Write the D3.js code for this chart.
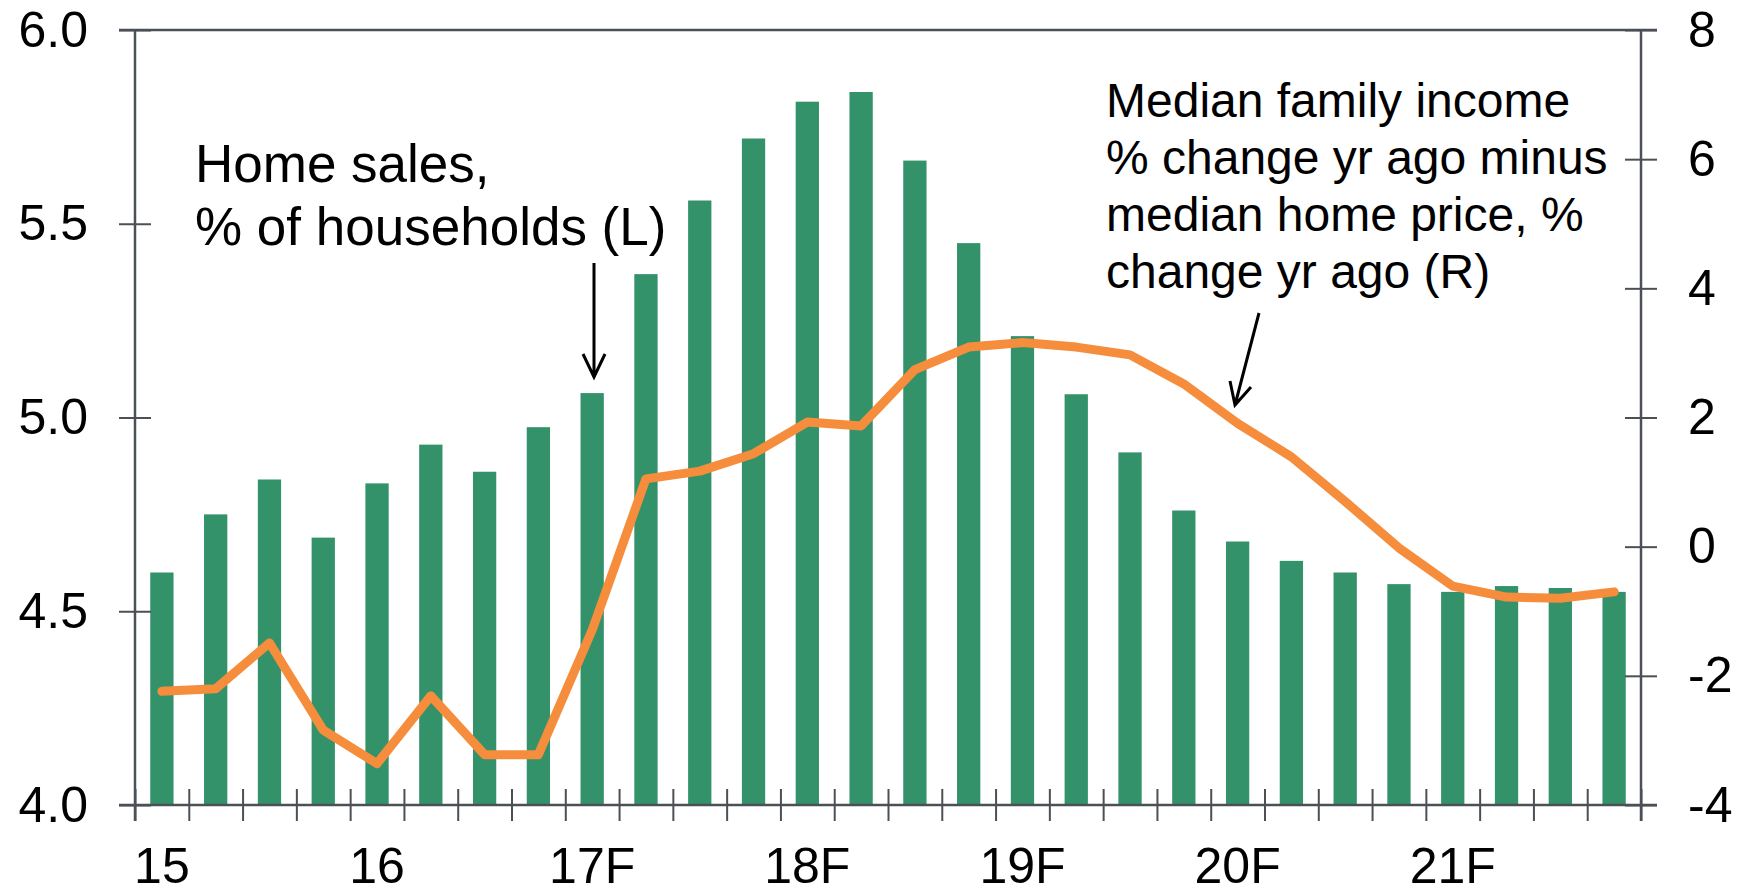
<!DOCTYPE html>
<html lang="en">
<head>
  <meta charset="UTF-8">
  <title>Home sales and affordability</title>
  <style>
    * {
      margin: 0;
      padding: 0;
    }

    body {
      background-color: #fff;
      font-family: "Liberation Sans", Arial, sans-serif;
    }

    .axis path {
      display: none;
    }

    .axis line {
      stroke: #4b4f56;
      stroke-width: 2;
    }

    .axis text {
      font-family: "Liberation Sans", Arial, sans-serif;
      font-size: 50px;
      fill: #000;
    }

    .note {
      font-size: 48px;
      fill: #000;
    }
  </style>
</head>

<body>
  <div id="chart"></div>

  <script src="https://cdnjs.cloudflare.com/ajax/libs/d3/7.8.5/d3.min.js"></script>
  <script>
    // quarterly data, 2015 Q1 to 2021 Q4
    var years = ['15', '16', '17F', '18F', '19F', '20F', '21F'];
    var quarters = [];
    years.forEach(function(y) {
      [1, 2, 3, 4].forEach(function(q) {
        quarters.push(y + 'Q' + q);
      });
    });

    // home sales, % of households (left axis)
    var homeSales = [4.60, 4.75, 4.84, 4.69, 4.83, 4.93, 4.86, 4.975,
      5.063, 5.37, 5.56, 5.72, 5.815, 5.84, 5.663, 5.45,
      5.21, 5.06, 4.91, 4.76, 4.68, 4.63, 4.60, 4.57,
      4.55, 4.565, 4.56, 4.55];

    // median family income % chg minus median home price % chg (right axis)
    var incomeMinusPrice = [-2.24, -2.20, -1.49, -2.84, -3.36, -2.31, -3.22, -3.22,
      -1.29, 1.05, 1.17, 1.44, 1.93, 1.87, 2.74, 3.09,
      3.16, 3.09, 2.97, 2.52, 1.91, 1.39, 0.70, -0.02,
      -0.61, -0.78, -0.80, -0.70];

    var leftTicks = [4.0, 4.5, 5.0, 5.5, 6.0];
    var rightTicks = [-4, -2, 0, 2, 4, 6, 8];

    var width = 1747,
      height = 889;
    var plotLeft = 135,
      plotRight = 1641,
      plotTop = 30,
      plotBottom = 805,
      tickLen = 16;

    var svg = d3.select('#chart').append('svg')
      .attr('width', width)
      .attr('height', height);

    var x = d3.scaleBand()
      .domain(quarters)
      .range([plotLeft, plotRight])
      .paddingInner(0.567)
      .paddingOuter(0.567 / 2);

    var xEdge = d3.scaleLinear()
      .domain([0, quarters.length])
      .range([plotLeft, plotRight]);

    var yL = d3.scaleLinear().domain([4, 6]).range([plotBottom, plotTop]);
    var yR = d3.scaleLinear().domain([-4, 8]).range([plotBottom, plotTop]);

    // bars
    svg.append('g').selectAll('rect')
      .data(homeSales)
      .enter()
      .append('rect')
      .attr('x', function(d, i) { return x(quarters[i]); })
      .attr('y', function(d) { return yL(d); })
      .attr('width', x.bandwidth())
      .attr('height', function(d) { return plotBottom - yL(d); })
      .attr('fill', '#33926a');

    // frame line on top
    svg.append('line')
      .attr('x1', plotLeft - tickLen).attr('x2', plotRight + tickLen)
      .attr('y1', plotTop).attr('y2', plotTop)
      .attr('stroke', '#4b4f56').attr('stroke-width', 2.5);

    // x axis: tick marks between quarters, labels under Q1
    var xAxis = svg.append('g')
      .attr('class', 'axis')
      .attr('transform', 'translate(0,' + plotBottom + ')')
      .call(d3.axisBottom(xEdge).tickValues(d3.range(quarters.length + 1)).tickSize(tickLen).tickFormat(''));
    xAxis.selectAll('line').attr('y1', -tickLen);

    svg.append('line')
      .attr('x1', plotLeft - tickLen).attr('x2', plotRight + tickLen)
      .attr('y1', plotBottom).attr('y2', plotBottom)
      .attr('stroke', '#4b4f56').attr('stroke-width', 2.5);

    svg.append('g').selectAll('text')
      .data(years)
      .enter()
      .append('text')
      .attr('x', function(d) { return x(d + 'Q1') + x.bandwidth() / 2; })
      .attr('y', 883)
      .attr('text-anchor', 'middle')
      .style('font-size', '50px')
      .text(function(d) { return d; });

    // left axis
    var leftAxis = svg.append('g')
      .attr('class', 'axis')
      .attr('transform', 'translate(' + plotLeft + ',0)')
      .call(d3.axisLeft(yL).tickValues(leftTicks).tickFormat(d3.format('.1f')).tickSize(tickLen).tickPadding(31));
    leftAxis.selectAll('line').attr('x1', tickLen);
    svg.append('line')
      .attr('x1', plotLeft).attr('x2', plotLeft)
      .attr('y1', plotTop).attr('y2', plotBottom + tickLen)
      .attr('stroke', '#4b4f56').attr('stroke-width', 2.5);

    // right axis, plain hyphen for negatives
    var rightAxis = svg.append('g')
      .attr('class', 'axis')
      .attr('transform', 'translate(' + plotRight + ',0)')
      .call(d3.axisRight(yR).tickValues(rightTicks).tickFormat(function(d) { return String(d); }).tickSize(tickLen).tickPadding(31));
    rightAxis.selectAll('line').attr('x1', -tickLen);
    svg.append('line')
      .attr('x1', plotRight).attr('x2', plotRight)
      .attr('y1', plotTop).attr('y2', plotBottom + tickLen)
      .attr('stroke', '#4b4f56').attr('stroke-width', 2.5);

    // line
    var line = d3.line()
      .x(function(d, i) { return x(quarters[i]) + x.bandwidth() / 2; })
      .y(function(d) { return yR(d); });

    svg.append('path')
      .datum(incomeMinusPrice)
      .attr('d', line)
      .attr('fill', 'none')
      .attr('stroke', '#f58d3c')
      .attr('stroke-width', 9)
      .attr('stroke-linejoin', 'round')
      .attr('stroke-linecap', 'round');

    // annotations
    var noteL = svg.append('text').attr('class', 'note').style('font-size', '53px');
    noteL.append('tspan').attr('x', 195).attr('y', 182).text('Home sales,');
    noteL.append('tspan').attr('x', 195).attr('y', 245).text('% of households (L)');

    var noteR = svg.append('text').attr('class', 'note');
    ['Median family income', '% change yr ago minus', 'median home price, %', 'change yr ago (R)']
    .forEach(function(t, i) {
      noteR.append('tspan').attr('x', 1106).attr('y', 117 + i * 57).text(t);
    });

    svg.append('path')
      .attr('d', 'M594,263 L594,377 M583,354 L594,377 L605,354')
      .attr('fill', 'none')
      .attr('stroke', '#000')
      .attr('stroke-width', 3);

    svg.append('path')
      .attr('d', 'M1259,313 L1235,405 M1230,381 L1235,405 L1251,387')
      .attr('fill', 'none')
      .attr('stroke', '#000')
      .attr('stroke-width', 3);
  </script>
</body>
</html>
